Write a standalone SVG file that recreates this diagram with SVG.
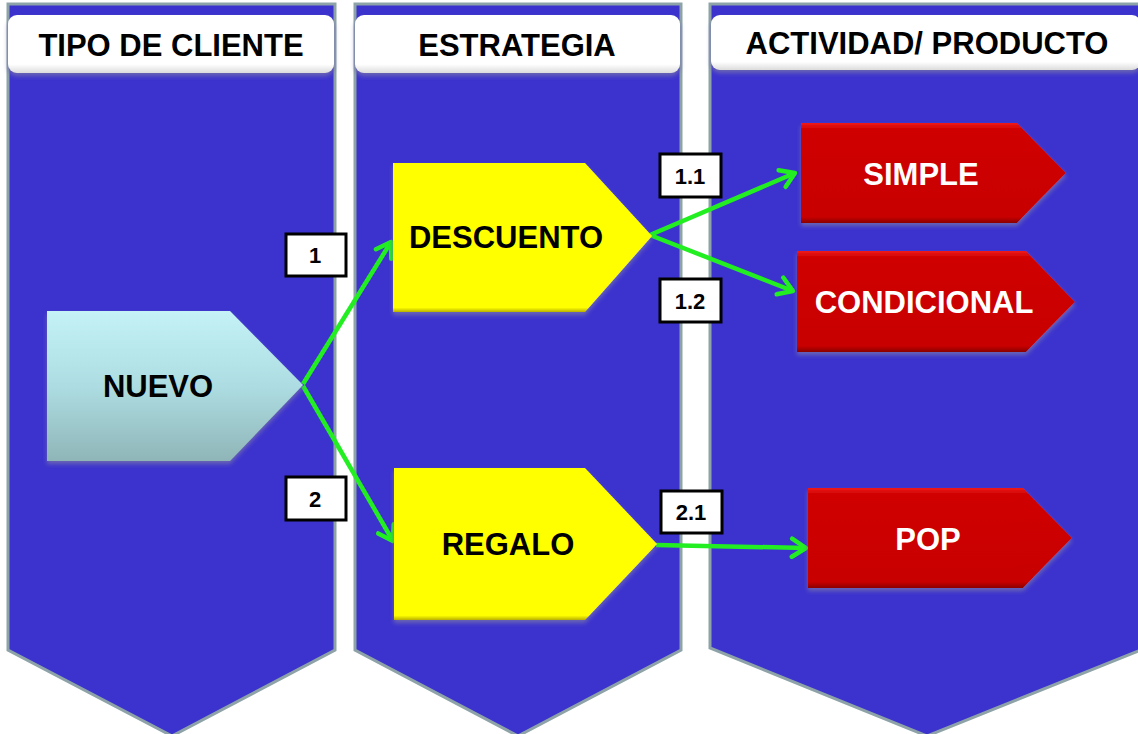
<svg xmlns="http://www.w3.org/2000/svg" width="1138" height="734" viewBox="0 0 1138 734">
<defs>
  <linearGradient id="gCyan" x1="0" y1="0" x2="0" y2="1">
    <stop offset="0" stop-color="#C4F2F6"/>
    <stop offset="0.5" stop-color="#ADDDE2"/>
    <stop offset="1" stop-color="#8FB5B8"/>
  </linearGradient>
  <linearGradient id="gRed" x1="0" y1="0" x2="0" y2="1">
    <stop offset="0" stop-color="#F01818"/>
    <stop offset="0.06" stop-color="#D00404"/>
    <stop offset="0.94" stop-color="#C80000"/>
    <stop offset="1" stop-color="#8A0000"/>
  </linearGradient>
  <linearGradient id="gYellow" x1="0" y1="0" x2="0" y2="1">
    <stop offset="0" stop-color="#FFFF00"/>
    <stop offset="0.97" stop-color="#FFFF00"/>
    <stop offset="1" stop-color="#B8B000"/>
  </linearGradient>
  <linearGradient id="gHead" x1="0" y1="0" x2="0" y2="1">
    <stop offset="0" stop-color="#FFFFFF"/>
    <stop offset="0.85" stop-color="#FFFFFF"/>
    <stop offset="1" stop-color="#DCDCDC"/>
  </linearGradient>
  <filter id="shadow" x="-10%" y="-10%" width="120%" height="130%">
    <feDropShadow dx="0" dy="3" stdDeviation="2" flood-color="#6E6AB0" flood-opacity="0.9"/>
  </filter>
  <marker id="arrow" markerWidth="24" markerHeight="24" refX="20" refY="12" orient="auto" markerUnits="userSpaceOnUse">
    <path d="M6,3 L20,12 L6,21" fill="none" stroke="#22EE22" stroke-width="4.5" stroke-linecap="round" stroke-linejoin="round"/>
  </marker>
</defs>
<style>
  .col { fill: #3C33CE; stroke: #8EA3A8; stroke-width: 3; }
  .head { fill: url(#gHead); filter: url(#shadow); }
  .htxt { font-family: "Liberation Sans", Arial, sans-serif; font-weight: bold; font-size: 31px; fill: #000; text-anchor: middle; }
  .ntxt { font-family: "Liberation Sans", Arial, sans-serif; font-weight: bold; font-size: 31px; text-anchor: middle; }
  .btxt { fill: #000; }
  .wtxt { fill: #FFFFFF; }
  .lbl { fill: #FFFFFF; stroke: #000; stroke-width: 3; }
  .ltxt { font-family: "Liberation Sans", Arial, sans-serif; font-weight: bold; font-size: 22px; fill: #000; text-anchor: middle; }
  .conn { fill: none; stroke: #22EE22; stroke-width: 4.5; marker-end: url(#arrow); }
</style>
<rect width="1138" height="734" fill="#FFFFFF"/>

<g id="column-tipo">
  <path class="col" d="M8,4 H335 V650 L172,736 L8,650 Z"/>
  <rect class="head" x="8" y="15" width="326" height="58" rx="9"/>
  <text class="htxt" x="171" y="56">TIPO DE CLIENTE</text>
</g>
<g id="column-estrategia">
  <path class="col" d="M355,4 H681 V650 L518,736 L355,650 Z"/>
  <rect class="head" x="355" y="15" width="325" height="58" rx="9"/>
  <text class="htxt" x="517" y="56">ESTRATEGIA</text>
</g>
<g id="column-actividad">
  <path class="col" d="M710,4 H1146 V648 L927,736 L710,648 Z"/>
  <rect class="head" x="711" y="15" width="430" height="55" rx="9"/>
  <text class="htxt" x="927" y="54">ACTIVIDAD/ PRODUCTO</text>
</g>

<g id="connectors">
  <line class="conn" x1="303" y1="384" x2="391" y2="242"/>
  <line class="conn" x1="303" y1="386" x2="393" y2="541"/>
  <line class="conn" x1="650" y1="235" x2="795" y2="173"/>
  <line class="conn" x1="650" y1="235" x2="793" y2="291"/>
  <line class="conn" x1="656" y1="545" x2="806" y2="548"/>
</g>

<g id="node-nuevo">
  <path d="M47,311 H230 L303,385 L230,461 H47 Z" fill="url(#gCyan)" filter="url(#shadow)"/>
  <text class="ntxt btxt" x="158" y="397">NUEVO</text>
</g>
<g id="node-descuento">
  <path d="M393,163 H585 L652,236 L585,312 H393 Z" fill="url(#gYellow)" filter="url(#shadow)"/>
  <text class="ntxt btxt" x="506" y="248">DESCUENTO</text>
</g>
<g id="node-regalo">
  <path d="M394,468 H585 L657,544 L585,620 H394 Z" fill="url(#gYellow)" filter="url(#shadow)"/>
  <text class="ntxt btxt" x="508" y="555">REGALO</text>
</g>
<g id="node-simple">
  <path d="M801,123 H1017 L1066,173 L1017,223 H801 Z" fill="url(#gRed)" filter="url(#shadow)"/>
  <text class="ntxt wtxt" x="921" y="185">SIMPLE</text>
</g>
<g id="node-condicional">
  <path d="M797,251 H1026 L1075,302 L1026,352 H797 Z" fill="url(#gRed)" filter="url(#shadow)"/>
  <text class="ntxt wtxt" x="924" y="313">CONDICIONAL</text>
</g>
<g id="node-pop">
  <path d="M808,488 H1023 L1072,538 L1023,588 H808 Z" fill="url(#gRed)" filter="url(#shadow)"/>
  <text class="ntxt wtxt" x="928" y="550">POP</text>
</g>

<g id="label-1">
  <rect class="lbl" x="286" y="234" width="60" height="42"/>
  <text class="ltxt" x="315" y="263">1</text>
</g>
<g id="label-2">
  <rect class="lbl" x="286" y="477" width="60" height="43"/>
  <text class="ltxt" x="315" y="507">2</text>
</g>
<g id="label-1-1">
  <rect class="lbl" x="660" y="154" width="61" height="43"/>
  <text class="ltxt" x="690" y="184">1.1</text>
</g>
<g id="label-1-2">
  <rect class="lbl" x="660" y="279" width="61" height="43"/>
  <text class="ltxt" x="690" y="309">1.2</text>
</g>
<g id="label-2-1">
  <rect class="lbl" x="661" y="491" width="61" height="42"/>
  <text class="ltxt" x="691" y="520">2.1</text>
</g>
</svg>
